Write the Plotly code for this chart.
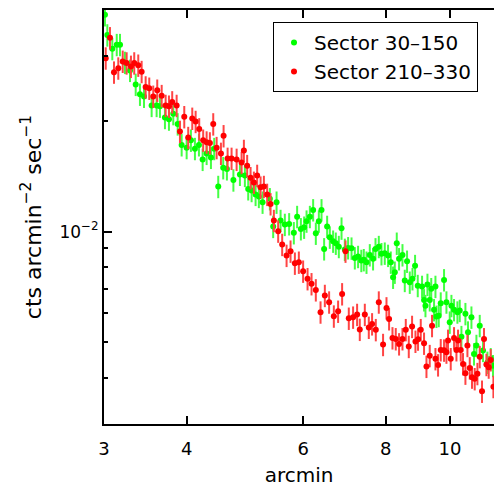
import plotly.graph_objects as go

# Sector 30-150 (green)
radius_green = [
    3.010, 3.035, 3.088, 3.136, 3.172, 3.227, 3.284, 3.350, 3.400, 3.448,
    3.541, 3.603, 3.645, 3.709, 3.761, 3.818, 3.877, 3.931, 4.000, 4.060,
    4.117, 4.175, 4.229, 4.288, 4.353, 4.403, 4.465, 4.543, 4.602, 4.707,
    4.815, 4.899, 4.956, 5.015, 5.085, 5.143, 5.210, 5.344, 5.406, 5.470,
    5.547, 5.630, 5.715, 5.809, 5.876, 5.953, 6.021, 6.072, 6.142, 6.213,
    6.271, 6.337, 6.397, 6.455, 6.523, 6.584, 6.660, 6.723, 6.794, 6.858,
    6.937, 7.017, 7.101, 7.183, 7.265, 7.347, 7.411, 7.481, 7.567, 7.654,
    7.719, 7.808, 7.881, 7.972, 8.064, 8.141, 8.206, 8.255, 8.312, 8.379,
    8.479, 8.547, 8.615, 8.697, 8.779, 8.859, 8.942, 9.077, 9.140, 9.185,
    9.249, 9.323, 9.372, 9.464, 9.510, 9.543, 9.620, 9.687, 9.799, 9.881,
    9.995, 10.054, 10.146, 10.266, 10.349, 10.410, 10.556, 10.652, 10.779, 10.877,
    10.968, 11.095, 11.223, 11.396, 11.528, 11.620,
]
sb_green = [
    0.0388, 0.0342, 0.0314, 0.0322, 0.0322, 0.0288, 0.0274, 0.0251, 0.0236, 0.0233,
    0.0220, 0.0220, 0.0219, 0.0204, 0.0202, 0.0209, 0.0196, 0.0172, 0.0169, 0.0177,
    0.0168, 0.0172, 0.0157, 0.0163, 0.0159, 0.0168, 0.01325, 0.0149, 0.0148, 0.0138,
    0.0143, 0.0142, 0.01306, 0.01292, 0.01261, 0.01245, 0.01201, 0.01227, 0.01032, 0.01201,
    0.01071, 0.01045, 0.01049, 0.00992, 0.01098, 0.01017, 0.01027, 0.01067, 0.01098, 0.01145,
    0.00989, 0.01067, 0.01145, 0.00897, 0.01032, 0.00965, 0.00941, 0.00929, 0.00910, 0.01021,
    0.00894, 0.00903, 0.00901, 0.00848, 0.00855, 0.00834, 0.00838, 0.00825, 0.00864, 0.00843,
    0.00897, 0.00910, 0.00870, 0.00873, 0.00861, 0.00825, 0.00751, 0.00775, 0.00929, 0.00843,
    0.00864, 0.00736, 0.00830, 0.00728, 0.00744, 0.00808, 0.00713, 0.00709, 0.00652, 0.00629,
    0.00718, 0.00652, 0.00699, 0.00613, 0.00709, 0.00588, 0.00591, 0.00639, 0.00739, 0.00643,
    0.00567, 0.00629, 0.00613, 0.00604, 0.00610, 0.00518, 0.00598, 0.00533, 0.00585, 0.00465,
    0.00490, 0.00555, 0.00475, 0.00441, 0.00451, 0.00432,
]

# Sector 210-330 (red)
radius_red = [
    3.018, 3.063, 3.106, 3.153, 3.202, 3.246, 3.295, 3.333, 3.380, 3.420,
    3.468, 3.512, 3.561, 3.611, 3.667, 3.718, 3.761, 3.804, 3.863, 3.908,
    3.967, 4.022, 4.079, 4.127, 4.179, 4.237, 4.288, 4.337, 4.388, 4.440,
    4.507, 4.549, 4.613, 4.677, 4.760, 4.843, 4.882, 4.938, 4.997, 5.055,
    5.113, 5.174, 5.234, 5.294, 5.357, 5.419, 5.501, 5.578, 5.664, 5.743,
    5.830, 5.911, 6.000, 6.093, 6.178, 6.271, 6.375, 6.471, 6.568, 6.677,
    6.777, 6.872, 6.954, 7.034, 7.140, 7.240, 7.308, 7.437, 7.541, 7.628,
    7.727, 7.808, 7.925, 8.020, 8.093, 8.189, 8.283, 8.379, 8.479, 8.577,
    8.667, 8.767, 8.871, 8.951, 9.036, 9.140, 9.217, 9.323, 9.398, 9.510,
    9.597, 9.687, 9.799, 9.881, 9.936, 10.030, 10.146, 10.231, 10.288, 10.385,
    10.468, 10.556, 10.630, 10.716, 10.801, 10.903, 11.006, 11.095, 11.184, 11.262,
    11.356, 11.447, 11.528, 11.636,
]
sb_red = [
    0.0296, 0.0336, 0.0271, 0.0278, 0.0290, 0.0287, 0.0281, 0.0287, 0.0283, 0.0272,
    0.0247, 0.0245, 0.0233, 0.0242, 0.0234, 0.0220, 0.0219, 0.0225, 0.0220, 0.0187,
    0.0205, 0.0180, 0.0203, 0.0199, 0.0190, 0.0177, 0.0175, 0.0174, 0.0196, 0.0169,
    0.0163, 0.0182, 0.0158, 0.0158, 0.0157, 0.0154, 0.0166, 0.0151, 0.0140, 0.0136,
    0.0142, 0.0132, 0.01325, 0.01261, 0.01189, 0.01071, 0.01002, 0.00922, 0.00861, 0.00884,
    0.00820, 0.00825, 0.00780, 0.00744, 0.00721, 0.00694, 0.00604, 0.00670, 0.00643, 0.00589,
    0.00607, 0.00677, 0.00884, 0.00581, 0.00585, 0.00595, 0.00542, 0.00595, 0.00549, 0.00561,
    0.00541, 0.00643, 0.00493, 0.00620, 0.00579, 0.00514, 0.00511, 0.00495, 0.00511, 0.00541,
    0.00487, 0.00552, 0.00503, 0.00510, 0.00541, 0.00497, 0.00430, 0.00460, 0.00555, 0.00451,
    0.00434, 0.00477, 0.00476, 0.00470, 0.00506, 0.00451, 0.00514, 0.00477, 0.00506, 0.00477,
    0.00437, 0.00412, 0.00490, 0.00426, 0.00402, 0.00398, 0.00411, 0.00457, 0.00368, 0.00511,
    0.00435, 0.00428, 0.00448, 0.00379,
]

rel_err_percent = 7.0

x_tickvals = [3, 4, 6, 8, 10]
x_ticktext = ["3", "4", "6", "8", "10"]
y_major = [0.01]
y_major_text = ["10<sup>−2</sup>"]
y_minor = [0.004, 0.005, 0.006, 0.007, 0.008, 0.009, 0.02, 0.03]

FONT = "DejaVu Sans"

fig = go.Figure()
fig.add_trace(go.Scatter(
    x=radius_green, y=sb_green, mode="markers", name="Sector 30–150",
    marker=dict(color="#00ff00", size=6),
    error_y=dict(type="percent", value=rel_err_percent, color="#44ff44",
                 thickness=2, width=0),
    cliponaxis=False,
))
fig.add_trace(go.Scatter(
    x=radius_red, y=sb_red, mode="markers", name="Sector 210–330",
    marker=dict(color="#ff0000", size=6),
    error_y=dict(type="percent", value=rel_err_percent, color="#ff4444",
                 thickness=2, width=0),
    cliponaxis=False,
))

fig.update_layout(
    width=494, height=491,
    margin=dict(l=104, r=0, t=10, b=67),
    paper_bgcolor="white", plot_bgcolor="white",
    font=dict(family=FONT, size=20, color="black"),
    showlegend=True,
    legend=dict(
        x=0.959, xanchor="right", y=0.971, yanchor="top",
        bordercolor="black", borderwidth=1, bgcolor="white",
        font=dict(family=FONT, size=20, color="black"),
        itemsizing="trace", tracegroupgap=0,
    ),
    xaxis=dict(
        type="log", range=[0.47712, 1.06670],
        tickvals=x_tickvals, ticktext=x_ticktext,
        ticks="inside", ticklen=8, tickwidth=1.5, tickcolor="black",
        showline=True, linecolor="black", linewidth=2, mirror="ticks",
        showgrid=False, zeroline=False,
        ticklabelstandoff=7,
        title=dict(text="arcmin", standoff=10, font=dict(size=20)),
        tickfont=dict(size=18),
    ),
    yaxis=dict(
        type="log", range=[-2.52288, -1.39794],
        tickvals=y_major, ticktext=y_major_text,
        ticks="inside", ticklen=8, tickwidth=1.5, tickcolor="black",
        minor=dict(tickvals=y_minor, ticks="inside", ticklen=4,
                   tickwidth=1.5, tickcolor="black", showgrid=False),
        showline=True, linecolor="black", linewidth=2, mirror=False,
        showgrid=False, zeroline=False,
        title=dict(text="cts arcmin<sup>−2</sup> sec<sup>−1</sup>",
                   standoff=12, font=dict(size=22)),
        tickfont=dict(size=17),
    ),
)

fig.write_html("out.html")
